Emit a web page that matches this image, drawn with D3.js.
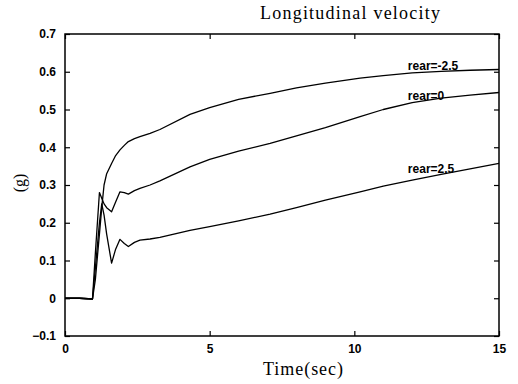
<!DOCTYPE html>
<html>
<head>
<meta charset="utf-8">
<script src="https://cdn.jsdelivr.net/npm/d3@7"></script>
<style>
  html, body { margin: 0; padding: 0; background: #fff; }
  svg { display: block; }
</style>
</head>
<body>
<svg id="chart"></svg>
<script>
// time samples (sec)
const time = [0, 0.5, 0.95, 1.05, 1.19, 1.27, 1.35, 1.44, 1.61, 1.75, 1.9, 2.05, 2.19, 2.4, 2.59,
  2.94, 3.28, 4.32, 5, 6, 7.09, 8, 9, 10.2, 11, 12, 13, 14, 15];

// longitudinal acceleration (g) for each rear steer setting
const rearNeg = [0, 0, -0.002, 0.05, 0.17, 0.24, 0.3, 0.33, 0.357, 0.378, 0.393, 0.405, 0.415, 0.423, 0.428,
  0.437, 0.447, 0.487, 0.505, 0.527, 0.543, 0.557, 0.57, 0.583, 0.59, 0.597, 0.601, 0.604, 0.606];
const rearZero = [0, 0, -0.002, 0.12, 0.28, 0.265, 0.25, 0.24, 0.229, 0.255, 0.282, 0.28, 0.276, 0.285, 0.291,
  0.3, 0.311, 0.348, 0.368, 0.39, 0.41, 0.43, 0.452, 0.481, 0.5, 0.518, 0.53, 0.538, 0.545];
const rearPos = [0, 0, -0.002, 0.08, 0.2, 0.25, 0.22, 0.17, 0.093, 0.13, 0.156, 0.145, 0.137, 0.148, 0.154,
  0.157, 0.161, 0.18, 0.19, 0.205, 0.223, 0.24, 0.26, 0.282, 0.297, 0.313, 0.328, 0.343, 0.357];

const seriesNames = ['rear=-2.5', 'rear=0', 'rear=2.5'];
const labelT = 11.85;
const labelY = [0.604, 0.524, 0.331];

const xTicks = [0, 5, 10, 15];
const yTicks = [-0.1, 0, 0.1, 0.2, 0.3, 0.4, 0.5, 0.6, 0.7];

const width = 518, height = 384;
const margin = { top: 34, right: 19, bottom: 48, left: 65 };
const innerWidth = width - margin.left - margin.right;
const innerHeight = height - margin.top - margin.bottom;

const svg = d3.select('#chart')
  .attr('width', width)
  .attr('height', height);

svg.append('rect')
  .attr('width', width)
  .attr('height', height)
  .attr('fill', '#fff');

const g = svg.append('g')
  .attr('transform', `translate(${margin.left},${margin.top})`);

const x = d3.scaleLinear().domain([0, 15]).range([0, innerWidth]);
const y = d3.scaleLinear().domain([-0.1, 0.7]).range([innerHeight, 0]);

const tickFont = 'Liberation Sans, Arial, sans-serif';
const fmt = d => d === 0 ? '0' : d3.format('.1f')(d);

// Axes with inward ticks
const styleAxis = sel => {
  sel.select('.domain').remove();
  sel.selectAll('line').attr('stroke', '#000').attr('stroke-width', 1.2);
  sel.selectAll('text')
    .style('font-family', tickFont)
    .style('font-weight', 'bold')
    .style('font-size', '12px')
    .attr('fill', '#000');
};

g.append('g')
  .attr('transform', `translate(0,${innerHeight})`)
  .call(d3.axisBottom(x).tickValues(xTicks).tickSize(-5).tickPadding(8).tickFormat(d3.format('d')))
  .call(styleAxis);

g.append('g')
  .call(d3.axisTop(x).tickValues(xTicks).tickSize(-5).tickFormat(''))
  .call(styleAxis);

g.append('g')
  .call(d3.axisLeft(y).tickValues(yTicks).tickSize(-5).tickPadding(9).tickFormat(fmt))
  .call(styleAxis);

g.append('g')
  .attr('transform', `translate(${innerWidth},0)`)
  .call(d3.axisRight(y).tickValues(yTicks).tickSize(-5).tickFormat(''))
  .call(styleAxis);

// frame
g.append('rect')
  .attr('width', innerWidth)
  .attr('height', innerHeight)
  .attr('fill', 'none')
  .attr('stroke', '#000')
  .attr('stroke-width', 1.5);

// curves
const line = d3.line()
  .x(d => x(d[0]))
  .y(d => y(d[1]));

[rearNeg, rearZero, rearPos].forEach(vals => {
  g.append('path')
    .datum(time.map((t, i) => [t, vals[i]]))
    .attr('fill', 'none')
    .attr('stroke', '#000')
    .attr('stroke-width', 1.3)
    .attr('stroke-linejoin', 'round')
    .attr('d', line);
});

// curve labels
seriesNames.forEach((name, i) => {
  g.append('text')
    .attr('x', x(labelT))
    .attr('y', y(labelY[i]))
    .style('font-family', tickFont)
    .style('font-weight', 'bold')
    .style('font-size', '12px')
    .attr('fill', '#000')
    .text(name);
});

// titles
const serif = 'Liberation Serif, Times New Roman, serif';

svg.append('text')
  .attr('x', 260)
  .attr('y', 19)
  .attr('textLength', 180)
  .attr('lengthAdjust', 'spacing')
  .style('font-family', serif)
  .style('font-size', '18px')
  .text('Longitudinal velocity');

svg.append('text')
  .attr('x', 263)
  .attr('y', 375)
  .attr('textLength', 80)
  .attr('lengthAdjust', 'spacing')
  .style('font-family', serif)
  .style('font-size', '18px')
  .text('Time(sec)');

svg.append('text')
  .attr('transform', 'translate(25,183) rotate(-90)')
  .attr('text-anchor', 'middle')
  .style('font-family', serif)
  .style('font-size', '16px')
  .text('(g)');
</script>
</body>
</html>
